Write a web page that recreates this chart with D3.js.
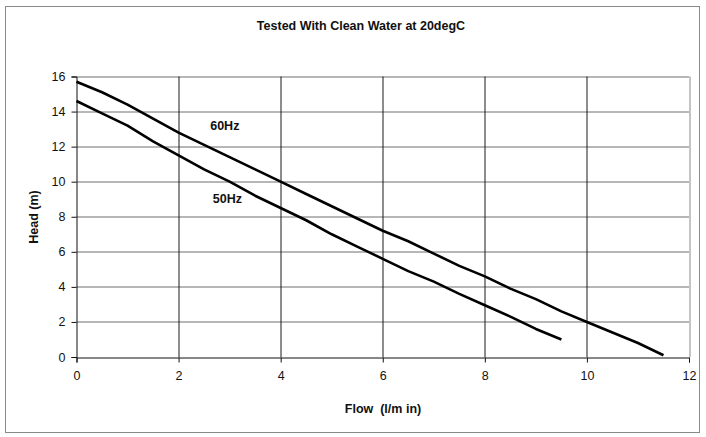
<!DOCTYPE html>
<html>
<head>
<meta charset="utf-8">
<script src="https://cdn.jsdelivr.net/npm/d3@7"></script>
<style>
  body{margin:0;background:#fff;}
  text{font-family:Arial,"Liberation Sans",sans-serif;fill:#111;}
</style>
</head>
<body>
<div id="chart"></div>
<script>
// data
const title=`Tested With Clean Water at 20degC`;
const xTicks=[0,2,4,6,8,10,12];
const yTicks=[0,2,4,6,8,10,12,14,16];
const flow60=[0,0.5,1,1.5,2,2.5,3,3.5,4,4.5,5,5.5,6,6.5,7,7.5,8,8.5,9,9.5,10,10.5,11,11.5];
const head60=[15.7,15.1,14.4,13.6,12.8,12.1,11.4,10.7,10.0,9.3,8.6,7.9,7.2,6.6,5.9,5.2,4.6,3.9,3.3,2.6,2.0,1.4,0.8,0.1];
const flow50=[0,0.5,1,1.5,2,2.5,3,3.5,4,4.5,5,5.5,6,6.5,7,7.5,8,8.5,9,9.5];
const head50=[14.6,13.9,13.2,12.3,11.5,10.7,10.0,9.2,8.5,7.8,7.0,6.3,5.6,4.9,4.3,3.6,2.95,2.3,1.6,1.0];
const seriesLabels=[
  {text:`60Hz`,flow:2.62,head:12.93},
  {text:`50Hz`,flow:2.67,head:8.77}
];

let format={width:706,height:437,margin:{left:76.5,top:76.5,right:17,bottom:80}};
let w=format.width-format.margin.left-format.margin.right;
let h=format.height-format.margin.top-format.margin.bottom;

let svg=d3.select(`#chart`).append(`svg`)
  .attr(`width`,format.width)
  .attr(`height`,format.height);

//outer frame
svg.append(`rect`)
  .attr(`x`,5.5).attr(`y`,6.5)
  .attr(`width`,694).attr(`height`,426)
  .attr(`fill`,`none`).attr(`stroke`,`#8a8a8a`);

svg.append(`text`)
  .attr(`x`,361).attr(`y`,30)
  .attr(`text-anchor`,`middle`)
  .style(`font-size`,`12.5px`).style(`font-weight`,`bold`)
  .text(title);

let graph=svg.append(`g`)
  .attr(`transform`,`translate(${format.margin.left},${format.margin.top})`);

let x=d3.scaleLinear().domain([0,12]).range([0,w]);
let y=d3.scaleLinear().domain([0,16]).range([h,0]);

//grid
graph.append(`g`).selectAll(`line`)
  .data(yTicks.filter(d=>d>0)).enter().append(`line`)
  .attr(`x1`,0).attr(`x2`,w)
  .attr(`y1`,d=>Math.round(y(d))+0.5).attr(`y2`,d=>Math.round(y(d))+0.5)
  .attr(`stroke`,`#6e6e6e`);
graph.append(`g`).selectAll(`line`)
  .data(xTicks.filter(d=>d>0&&d<12)).enter().append(`line`)
  .attr(`y1`,0).attr(`y2`,h)
  .attr(`x1`,d=>Math.round(x(d))+0.5).attr(`x2`,d=>Math.round(x(d))+0.5)
  .attr(`stroke`,`#1a1a1a`);
graph.append(`line`)
  .attr(`x1`,Math.round(w)+0.5).attr(`x2`,Math.round(w)+0.5)
  .attr(`y1`,0).attr(`y2`,h)
  .attr(`stroke`,`#8a8a8a`);

//axes
let xAxis=graph.append(`g`)
  .attr(`transform`,`translate(0,${Math.round(h)})`)
  .call(d3.axisBottom(x).tickValues(xTicks).tickSize(5).tickPadding(9).tickFormat(d3.format(`d`)));
let yAxis=graph.append(`g`)
  .call(d3.axisLeft(y).tickValues(yTicks).tickSize(5).tickPadding(6).tickFormat(d3.format(`d`)));
[xAxis,yAxis].forEach(a=>{
  a.select(`.domain`).attr(`stroke`,`#111`);
  a.selectAll(`.tick line`).attr(`stroke`,`#111`);
  a.selectAll(`text`).style(`font-size`,`12.5px`).style(`font-family`,`Arial,"Liberation Sans",sans-serif`).attr(`fill`,`#111`);
});

//curves
let valueline=d3.line().x(d=>x(d[0])).y(d=>y(d[1]));
[[flow60,head60],[flow50,head50]].forEach(s=>{
  graph.append(`path`)
    .datum(s[0].map((f,i)=>[f,s[1][i]]))
    .attr(`fill`,`none`)
    .attr(`stroke`,`#000`)
    .attr(`stroke-width`,2.6)
    .attr(`stroke-linejoin`,`round`)
    .attr(`d`,valueline);
});

graph.selectAll(`.slabel`).data(seriesLabels).enter().append(`text`)
  .attr(`class`,`slabel`)
  .attr(`x`,d=>x(d.flow)).attr(`y`,d=>y(d.head))
  .style(`font-size`,`12.5px`).style(`font-weight`,`bold`)
  .text(d=>d.text);

//axis titles
svg.append(`text`)
  .attr(`x`,383).attr(`y`,413)
  .attr(`text-anchor`,`middle`)
  .style(`font-size`,`12.5px`).style(`font-weight`,`bold`)
  .attr(`xml:space`,`preserve`)
  .text(`Flow  (l/m in)`);
svg.append(`text`)
  .attr(`transform`,`translate(38,217) rotate(-90)`)
  .attr(`text-anchor`,`middle`)
  .style(`font-size`,`12.5px`).style(`font-weight`,`bold`)
  .text(`Head (m)`);
</script>
</body>
</html>
